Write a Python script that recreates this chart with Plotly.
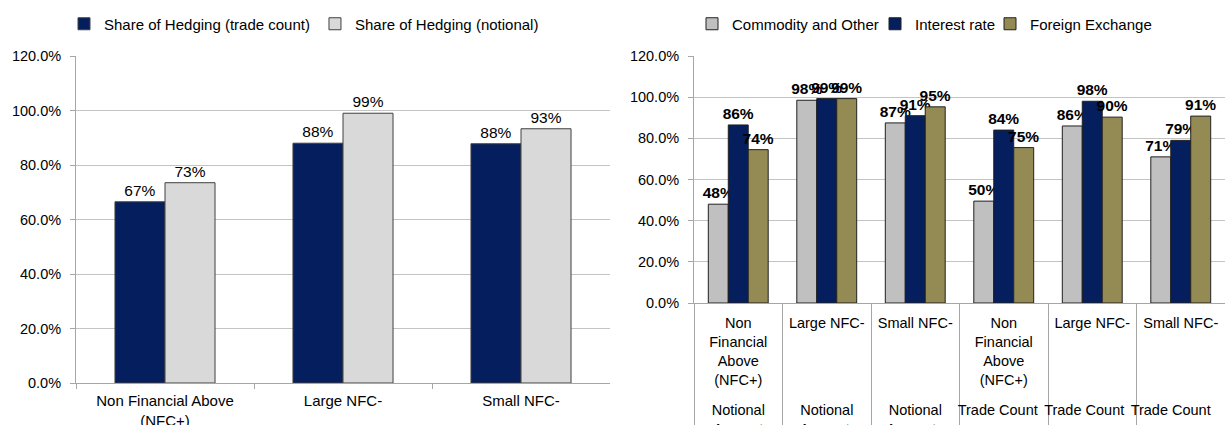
import plotly.graph_objects as go

# ---- Left chart data ----
left_categories = ["Non Financial Above<br>(NFC+)", "Large NFC-", "Small NFC-"]
hedge_trade_count = [0.665, 0.880, 0.878]
hedge_notional = [0.735, 0.990, 0.933]
left_trade_labels = ["67%", "88%", "88%"]
left_notional_labels = ["73%", "99%", "93%"]

# ---- Right chart data ----
right_categories = ["Non<br>Financial<br>Above<br>(NFC+)", "Large NFC-", "Small NFC-",
                    "Non<br>Financial<br>Above<br>(NFC+)", "Large NFC-", "Small NFC-"]
right_measures = ["Notional<br>Amount", "Notional<br>Amount", "Notional<br>Amount",
                  "Trade Count", "Trade Count", "Trade Count"]
commodity = [0.48, 0.985, 0.875, 0.495, 0.86, 0.71]
interest = [0.865, 0.993, 0.91, 0.84, 0.98, 0.79]
fx = [0.745, 0.993, 0.953, 0.755, 0.903, 0.908]
commodity_labels = ["48%", "98%", "87%", "50%", "86%", "71%"]
interest_labels = ["86%", "99%", "91%", "84%", "98%", "79%"]
fx_labels = ["74%", "99%", "95%", "75%", "90%", "91%"]

yticks = [0, 0.2, 0.4, 0.6, 0.8, 1.0, 1.2]
ytick_text = ["0.0%", "20.0%", "40.0%", "60.0%", "80.0%", "100.0%", "120.0%"]

NAVY = "#041E5E"
LGRAY = "#D9D9D9"
MGRAY = "#C0C0C0"
OLIVE = "#948A54"
AXIS = "#A6A6A6"
FONT = "Liberation Sans, Arial, sans-serif"
W, H = 1225, 425

# outer level made unique per column so each column gets its own label and divider;
# a leading line break leaves room below the multi-line inner labels
outer = ["<br>" + m + " " * i for i, m in enumerate(right_measures)]
x_right = [outer, right_categories]

fig = go.Figure()

LW = 0.281  # left bar width (category units)
for vals, labs, name, col, off in [
        (hedge_trade_count, left_trade_labels, "Share of Hedging (trade count)", NAVY, -LW),
        (hedge_notional, left_notional_labels, "Share of Hedging (notional)", LGRAY, 0.0)]:
    fig.add_trace(go.Bar(
        x=left_categories, y=vals, name=name,
        width=LW, offset=off,
        marker=dict(color=col, line=dict(color="#404040", width=1)),
        text=labs, textposition="outside", cliponaxis=False, constraintext="none",
        textfont=dict(size=15.5, color="#000000"),
        xaxis="x", yaxis="y", legend="legend"))

RW = 0.2255  # right bar width (category units)
for vals, labs, name, col, off, lg in [
        (commodity, commodity_labels, "Commodity and Other", MGRAY, -1.5 * RW, "legend2"),
        (interest, interest_labels, "Interest rate", NAVY, -0.5 * RW, "legend3"),
        (fx, fx_labels, "Foreign Exchange", OLIVE, 0.5 * RW, "legend4")]:
    fig.add_trace(go.Bar(
        x=x_right, y=vals, name=name,
        width=RW, offset=off,
        marker=dict(color=col, line=dict(color="#202020", width=1)),
        text=labs, textposition="outside", cliponaxis=False, constraintext="none",
        textfont=dict(size=15.5, color="#000000", weight="bold"),
        xaxis="x2", yaxis="y2", legend=lg))

yaxis_common = dict(range=[0, 1.2], tickvals=yticks, ticktext=ytick_text,
                    showline=True, linecolor=AXIS, ticks="outside", ticklen=5,
                    tickcolor=AXIS, gridcolor="#C4C4C4", gridwidth=1, zeroline=False,
                    tickfont=dict(size=14.5), ticklabelstandoff=6, automargin=False)


def legend_at(px):
    return dict(orientation="h", x=px / W, y=(H - 24) / H, xanchor="left", yanchor="middle",
                font=dict(size=15), bgcolor="rgba(0,0,0,0)", itemwidth=30,
                traceorder="normal")


fig.update_layout(
    width=W, height=H,
    margin=dict(l=0, r=0, t=0, b=0, autoexpand=False),
    paper_bgcolor="white", plot_bgcolor="white",
    font=dict(family=FONT, size=15, color="#000000"),
    barmode="group",
    xaxis=dict(domain=[76/W, 610/W], anchor="y", type="category",
               showline=True, linecolor=AXIS, ticks="outside", tickson="boundaries",
               ticklen=5, tickcolor=AXIS, showgrid=False, tickangle=0,
               tickfont=dict(size=15), ticklabelstandoff=4, automargin=False),
    yaxis=dict(domain=[(H-383)/H, (H-56)/H], anchor="x", **yaxis_common),
    xaxis2=dict(domain=[694/W, 1.0], anchor="y2", type="multicategory",
                showline=True, linecolor=AXIS, ticks="outside", ticklen=5,
                tickcolor=AXIS, showdividers=True, dividercolor=AXIS,
                dividerwidth=1, showgrid=False, tickangle=0,
                tickfont=dict(size=14.5), ticklabelstandoff=7, automargin=False),
    yaxis2=dict(domain=[(H-303)/H, (H-56)/H], anchor="x2", **yaxis_common),
    legend=legend_at(64),
    legend2=legend_at(692),
    legend3=legend_at(875),
    legend4=legend_at(990),
)

fig.write_html("out.html", config={"displayModeBar": False},
               post_script="document.body.style.margin='0';")
